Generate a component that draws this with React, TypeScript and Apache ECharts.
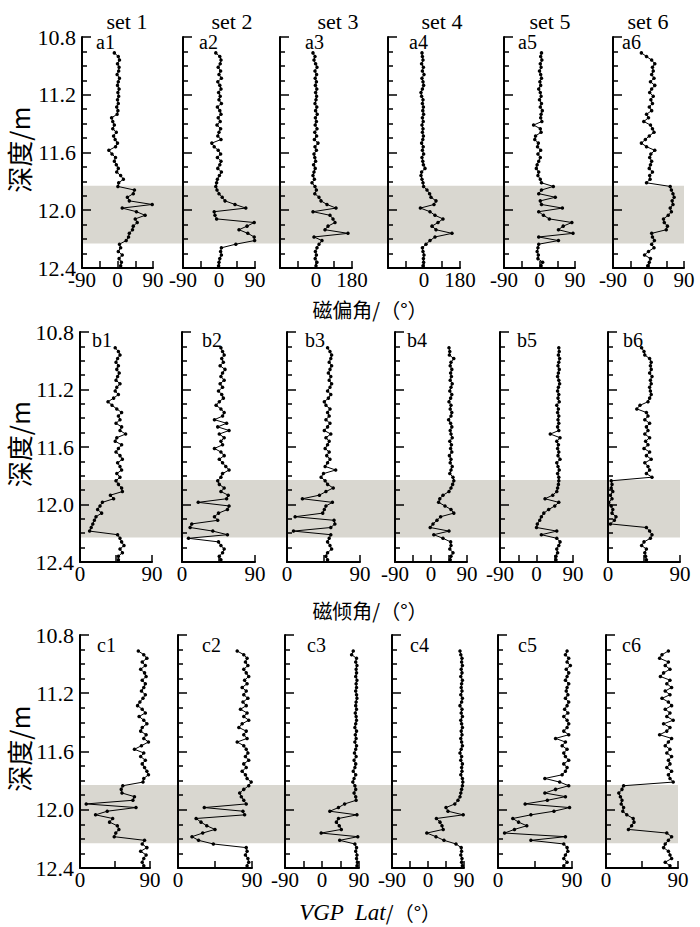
import React, { useEffect, useRef } from "react";
import * as echarts from "echarts";

// Shared sampling depths (m)
const DEPTH = [
  10.910, 10.935, 10.960, 10.985, 11.010, 11.035, 11.060, 11.085, 11.110, 11.135,
  11.160, 11.185, 11.210, 11.235, 11.260, 11.285, 11.310, 11.335, 11.360, 11.385,
  11.410, 11.435, 11.460, 11.485, 11.510, 11.535, 11.560, 11.585, 11.610, 11.635,
  11.660, 11.685, 11.710, 11.735, 11.760, 11.785, 11.810, 11.835, 11.860, 11.885,
  11.910, 11.935, 11.960, 11.985, 12.010, 12.035, 12.060, 12.085, 12.110, 12.135,
  12.160, 12.185, 12.210, 12.235, 12.260, 12.285, 12.310, 12.335, 12.360, 12.385,
];

// Declination (磁偏角)
const A1 = [-8,2,5,0,4,3,-1,5,2,0, 4,1,3,0,2,-2,1,-1,-15,-12, -8,-12,-3,-10,-6,0,-5,-22,-14,-5, -8,-3,2,-2,8,15,3,1,43,40, 25,30,88,12,48,70,45,50,40,38, 30,28,22,5,8,2,12,4,10,8];
const A2 = [-8,2,5,3,-2,4,0,6,-3,2, 5,-1,3,0,6,-4,2,5,-2,3, -5,4,0,-3,5,-18,-12,-2,4,-4, 5,2,-3,6,1,-4,-6,-8,-5,0, 8,15,40,67,-12,-10,-6,88,70,50, 72,88,89,42,6,4,6,2,0,-1];
const A3 = [-15,-5,-10,-2,5,-5,3,-4,2,-3, 4,-2,3,0,-5,4,-2,6,-3,2, -4,5,-6,3,-8,10,-5,2,-10,-6, -2,-12,-4,-10,-15,-8,-20,-5,2,-6, 15,25,55,100,-15,70,85,95,60,45, 160,-10,30,15,5,-3,2,-4,5,0];
const A4 = [-10,-8,-5,-12,-3,-8,0,-10,-5,-2, -8,-15,-12,-5,-8,-3,-6,-2,-8,-4, -10,-5,-8,-3,-6,-12,-4,-8,-2,-10, -6,-3,5,-12,-15,-10,-5,-2,15,28, 35,60,50,-18,30,55,95,70,40,60, 140,55,30,10,-8,-5,0,-3,-2,-5];
const A5 = [5,3,6,2,4,0,3,5,1,3, -2,2,4,0,5,2,7,4,3,6, -15,2,4,-10,-12,-3,-5,3,-4,2, -2,-6,-8,-2,-4,2,5,35,5,-2, 40,2,5,58,-2,10,25,82,60,48, 85,-2,48,-2,-4,-6,-3,-4,8,4];
const A6 = [-18,-5,8,16,10,12,8,14,5,16, 8,3,12,6,10,2,8,-5,0,-12, 5,10,14,2,-8,-18,-5,16,6,3, 8,5,2,10,3,4,-5,55,58,62, 65,60,62,55,58,50,38,40,48,45, 8,10,15,8,14,0,-10,5,2,-2];

// Inclination (磁倾角)
const B1 = [44,48,50,47,45,48,46,49,47,45, 50,46,44,48,42,35,40,46,52,48, 50,45,52,50,57,46,44,52,48,45, 50,53,47,50,52,46,50,45,48,52, 53,38,42,28,25,22,27,20,18,16, 14,12,47,50,52,55,50,53,48,48];
const B2 = [48,50,52,49,51,47,53,50,48,52, 47,50,45,49,51,46,42,48,52,50, 40,55,44,58,46,52,48,50,40,48, 52,46,50,54,58,50,48,44,46,52, 48,57,55,20,58,56,45,40,44,12, 10,38,56,8,45,48,52,50,46,48];
const B3 = [50,53,55,54,52,55,53,51,54,52, 55,53,50,54,51,46,48,53,50,52, 48,53,50,46,54,48,52,50,47,52, 49,53,50,47,60,45,42,47,50,57, 48,40,19,56,48,46,44,10,58,59, 54,8,54,52,50,53,55,50,48,50];
const B4 = [45,47,46,57,50,48,52,49,51,48, 53,50,47,52,49,45,50,48,52,50, 44,49,52,48,50,53,47,51,49,52, 46,50,48,53,50,47,55,57,54,50, 45,30,22,19,35,50,57,24,15,5, -2,45,7,30,49,50,47,55,50,48];
const B5 = [55,56,54,57,55,53,56,54,52,55, 57,54,52,55,53,56,50,54,52,55, 53,55,52,55,34,58,50,54,52,55, 53,58,50,53,56,52,55,55,54,52, 50,40,21,55,45,30,18,12,8,2, 0,50,12,50,58,55,50,52,48,48];
const B6 = [42,45,46,52,54,53,54,52,55,53, 54,52,53,54,52,50,40,36,48,50, 46,52,48,50,46,52,47,50,45,52, 48,54,46,50,52,48,55,4,5,4, 6,3,5,1,4,6,5,10,8,3, 48,52,55,53,45,42,48,46,47,48];

// VGP latitude
const C1 = [75,82,86,80,84,78,83,85,80,84, 82,79,84,81,77,74,80,84,76,82, 86,80,78,85,82,88,79,70,82,78, 84,80,83,86,88,82,81,55,53,54, 70,68,8,72,35,20,42,38,48,50, 46,44,83,80,86,78,85,82,80,82];
const C2 = [72,80,84,82,85,80,83,86,81,84, 78,83,80,85,79,83,76,84,80,86, 78,74,83,80,84,72,80,83,85,82, 86,80,83,78,82,84,89,86,80,75, 77,80,83,32,79,81,22,28,35,45, 30,17,25,43,83,84,82,85,86,84];
const C3 = [76,72,84,82,85,83,84,82,85,83, 84,82,84,85,83,82,84,81,83,84, 82,80,84,81,83,80,84,82,79,83, 78,82,80,76,82,78,75,80,82,78, 82,83,55,40,19,85,40,35,42,47, -2,87,43,80,84,82,85,84,86,85];
const C4 = [80,82,85,84,86,83,85,82,86,84, 83,85,82,86,84,80,85,83,86,82, 84,86,83,85,82,84,86,83,80,84, 82,86,84,85,82,86,87,86,84,82, 80,75,67,45,50,88,21,30,35,38, -3,20,40,70,83,84,82,85,84,86];
const C5 = [84,82,86,84,88,83,86,84,82,86, 84,83,85,82,86,84,81,85,80,84, 86,84,80,86,70,82,78,84,80,82, 86,80,84,82,78,57,75,86,70,57, 82,60,33,87,68,40,18,25,35,20, 8,82,40,80,84,85,82,80,84,80];
const C6 = [78,70,67,78,74,80,72,68,80,76, 82,74,80,70,78,82,74,80,76,84, 72,80,76,67,82,78,74,80,76,82, 78,80,76,82,78,80,84,22,20,16, 18,20,19,22,21,26,34,35,32,28, 76,82,78,74,72,78,80,82,74,80];

const SET_TITLES = ["set 1", "set 2", "set 3", "set 4", "set 5", "set 6"];
const PANEL_LABELS = [
  ["a1", "a2", "a3", "a4", "a5", "a6"],
  ["b1", "b2", "b3", "b4", "b5", "b6"],
  ["c1", "c2", "c3", "c4", "c5", "c6"],
];
const ROW_TITLES = ["磁偏角/（°）", "磁倾角/（°）", "{i|VGP  Lat}{n|/（°）}"];
const Y_TITLE = "深度/m";
const DEPTH_MIN = 10.8;
const DEPTH_MAX = 12.4;
const DEPTH_STEP = 0.4;
const BAND = [11.83, 12.23];

// x-axis range per panel: [min, max, interval, shown labels]
const R90: [number, number, number, number[]] = [-90, 90, 45, [-90, 0, 90]];
const R180: [number, number, number, number[]] = [-180, 180, 90, [0, 180]];
const P90: [number, number, number, number[]] = [0, 90, 45, [0, 90]];
const ROW_DATA = [[A1, A2, A3, A4, A5, A6], [B1, B2, B3, B4, B5, B6], [C1, C2, C3, C4, C5, C6]];
const ROW_RANGES = [
  [R90, R90, R180, R180, R90, R90],
  [P90, P90, P90, R90, R90, P90],
  [P90, P90, R90, R90, P90, P90],
];

// layout
const ROW_TOPS = [37, 332, 635];
const ROW_HEIGHTS = [231, 230, 233];
const COL_LEFTS = [
  [82, 183, 280, 388, 504, 613],
  [80, 182, 287, 395, 500, 608],
  [80, 178, 285, 392, 498, 606],
];
const COL_WIDTHS = [
  [71, 72, 72, 72, 71, 71],
  [72, 73, 73, 72, 73, 72],
  [70, 74, 74, 72, 74, 72],
];
const SET_X = [127, 232, 338, 442, 550, 648];
const LABEL_X = [
  [96, 199, 305, 409, 518, 622],
  [92, 202, 305, 407, 517, 623],
  [97, 202, 307, 410, 518, 622],
];
const LABEL_Y = [42, 340, 645];
const ROW_TITLE_Y = [309, 610, 912];

const FONT = "Liberation Serif";
const CJK_FONT = "Noto Sans CJK SC";
const BAND_COLOR = "#d9d7d0";

function textStyle(text: string, size: number, align: string, family: string) {
  return {
    text,
    fontSize: size,
    fontFamily: family,
    fill: "#000",
    align,
    verticalAlign: "middle",
    textAlign: align,
    textVerticalAlign: "middle",
  };
}

function buildOption() {
  const grid: any[] = [];
  const xAxis: any[] = [];
  const yAxis: any[] = [];
  const series: any[] = [];
  const graphic: any[] = [];

  ROW_DATA.forEach((rowVals, r) => {
    const bi = grid.length;
    const lefts = COL_LEFTS[r];
    const widths = COL_WIDTHS[r];
    grid.push({ left: lefts[0], top: ROW_TOPS[r], width: lefts[5] + widths[5] - lefts[0], height: ROW_HEIGHTS[r] });
    xAxis.push({ gridIndex: bi, type: "value", min: 0, max: 1, show: false });
    yAxis.push({ gridIndex: bi, type: "value", min: DEPTH_MIN, max: DEPTH_MAX, inverse: true, show: false });
    series.push({
      type: "line",
      xAxisIndex: bi,
      yAxisIndex: bi,
      data: [[0, DEPTH_MIN]],
      symbol: "none",
      lineStyle: { opacity: 0 },
      silent: true,
      z: 1,
      markArea: {
        silent: true,
        itemStyle: { color: BAND_COLOR },
        label: { show: false },
        data: [[{ yAxis: BAND[0] }, { yAxis: BAND[1] }]],
      },
    });

    rowVals.forEach((vals, c) => {
      const idx = grid.length;
      const [mn, mx, itv, shown] = ROW_RANGES[r][c];
      grid.push({ left: lefts[c], top: ROW_TOPS[r], width: widths[c], height: ROW_HEIGHTS[r] });
      xAxis.push({
        gridIndex: idx,
        type: "value",
        min: mn,
        max: mx,
        interval: itv,
        position: "bottom",
        z: 5,
        axisLine: { show: true, onZero: false, lineStyle: { color: "#000", width: 2 } },
        axisTick: { show: true, inside: true, length: 7, lineStyle: { color: "#000", width: 1.5 } },
        splitLine: { show: false },
        axisLabel: {
          show: true,
          margin: 1,
          fontSize: 21,
          fontFamily: FONT,
          color: "#000",
          showMinLabel: true,
          showMaxLabel: true,
          formatter: (v: number) => (shown.indexOf(v) >= 0 ? String(v) : ""),
        },
      });
      yAxis.push({
        gridIndex: idx,
        type: "value",
        inverse: true,
        min: DEPTH_MIN,
        max: DEPTH_MAX,
        interval: DEPTH_STEP,
        z: 5,
        axisLine: { show: true, onZero: false, lineStyle: { color: "#000", width: 2 } },
        axisTick: { show: true, inside: true, length: 9, lineStyle: { color: "#000", width: 1.5 } },
        minorTick: { show: true, splitNumber: 4, length: 5, lineStyle: { color: "#000", width: 1.5 } },
        splitLine: { show: false },
        minorSplitLine: { show: false },
        axisLabel: {
          show: c === 0,
          margin: 6,
          fontSize: 22,
          fontFamily: FONT,
          color: "#000",
          formatter: (v: number) => v.toFixed(1),
        },
      });
      series.push({
        type: "line",
        xAxisIndex: idx,
        yAxisIndex: idx,
        data: vals.map((v, i) => [v, DEPTH[i]]),
        symbol: "circle",
        symbolSize: 3.5,
        showAllSymbol: true,
        itemStyle: { color: "#000" },
        lineStyle: { color: "#000", width: 1 },
        z: 6,
      });
      graphic.push({
        type: "text",
        x: LABEL_X[r][c],
        y: LABEL_Y[r],
        z: 10,
        style: textStyle(PANEL_LABELS[r][c], 20, "left", FONT),
      });
    });

    const title: any = textStyle(ROW_TITLES[r], 20, "center", r === 2 ? FONT : CJK_FONT);
    if (r === 2) {
      title.rich = {
        i: { fontStyle: "italic", fontSize: 23, fontFamily: FONT, fill: "#000" },
        n: { fontSize: 20, fontFamily: CJK_FONT, fill: "#000" },
      };
    }
    graphic.push({ type: "text", x: 370, y: ROW_TITLE_Y[r], z: 10, style: title });
    graphic.push({
      type: "text",
      x: 18,
      y: ROW_TOPS[r] + ROW_HEIGHTS[r] / 2 - 3,
      rotation: Math.PI / 2,
      z: 10,
      style: textStyle(Y_TITLE, 26, "center", CJK_FONT),
    });
  });

  SET_TITLES.forEach((t, c) => {
    graphic.push({
      type: "text",
      x: SET_X[c],
      y: 21,
      z: 10,
      style: textStyle(t, 22, "center", FONT),
    });
  });

  return {
    animation: false,
    backgroundColor: "#fff",
    textStyle: { fontFamily: FONT },
    grid,
    xAxis,
    yAxis,
    series,
    graphic,
  };
}

export default function App() {
  const ref = useRef<HTMLDivElement>(null);
  useEffect(() => {
    if (!ref.current) return;
    const chart = echarts.init(ref.current, null, { renderer: "svg" });
    chart.setOption(buildOption() as any);
    return () => chart.dispose();
  }, []);
  return (
    <div
      ref={ref}
      style={{ position: "fixed", left: 0, top: 0, width: 700, height: 927, background: "#fff" }}
    />
  );
}
